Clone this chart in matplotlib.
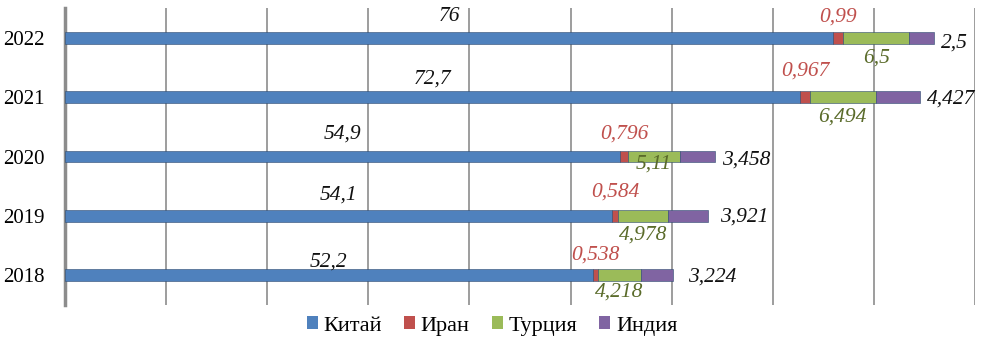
import numpy as np
import matplotlib
matplotlib.use("Agg")
import matplotlib.pyplot as plt

# ── Data ──────────────────────────────────────────────────────────
years = ["2018", "2019", "2020", "2021", "2022"]
countries = ["Китай", "Иран", "Турция", "Индия"]
china = [52.2, 54.1, 54.9, 72.7, 76]
iran = [0.538, 0.584, 0.796, 0.967, 0.99]
turkey = [4.218, 4.978, 5.11, 6.494, 6.5]
india = [3.224, 3.921, 3.458, 4.427, 2.5]

# ── Style ─────────────────────────────────────────────────────────
_COLORS = ["#4f81bd", "#c0504d", "#9bbb59", "#8064a2"]
_LABEL_COLORS = ["#111111", "#c0504d", "#5a6b2a", "#111111"]
_GRID = "#8c8c8c"
_FONT = "Liberation Serif"

# label offsets in pixels (dy from bar centre; india uses dx from bar end)
china_dy = [13, 21, 22, 18, 21]
iran_dy = [20, 24, 22, 26, 21]
turkey_dy = [-17, -19, -8, -20, -20]
india_dx = [15, 12, 7, 7, 7]
india_dy = [-2, -1, -4, -2, -5]

fig = plt.figure(figsize=(9.82, 3.51), dpi=100)
ax = fig.add_axes([65 / 982, 46 / 351, 910 / 982, 297 / 351])

y = np.arange(len(years))
series = [china, iran, turkey, india]
left = np.zeros(len(years))
for vals, color, name in zip(series, _COLORS, countries):
    ax.barh(y, vals, left=left, height=0.2, color=color,
            edgecolor="#2c4a70", linewidth=0.4, label=name, zorder=3)
    left = left + np.array(vals)

# data labels
seg_left = np.zeros(len(years))
offsets = [china_dy, iran_dy, turkey_dy]
for k, (vals, dys) in enumerate(zip(series[:3], offsets)):
    for i, v in enumerate(vals):
        ax.annotate(f"{v:g}".replace(".", ","), xy=(seg_left[i] + v / 2, y[i]),
                    xytext=(0, dys[i]), textcoords="offset pixels",
                    ha="center", va="center", fontsize=15.5, style="italic",
                    family=_FONT, color=_LABEL_COLORS[k], zorder=5)
    seg_left = seg_left + np.array(vals)

for i, v in enumerate(india):
    ax.annotate(f"{v:g}".replace(".", ","), xy=(left[i], y[i]),
                xytext=(india_dx[i], india_dy[i]), textcoords="offset pixels",
                ha="left", va="center", fontsize=15.5, style="italic",
                family=_FONT, color=_LABEL_COLORS[3], zorder=5)

ax.set_xlim(0, 90)
ax.set_ylim(-0.5, len(years) - 0.5)
ax.set_xticks(np.arange(0, 91, 10))
ax.set_xticklabels([])
ax.tick_params(axis="x", length=0)
ax.xaxis.grid(True, color=_GRID, linewidth=1.2, zorder=0)
ax.set_yticks(y)
ax.set_yticklabels(years, fontsize=15, family=_FONT)
ax.tick_params(axis="y", length=0, pad=15)
for s in ["top", "right", "bottom"]:
    ax.spines[s].set_visible(False)
ax.spines["left"].set_color(_GRID)
ax.spines["left"].set_linewidth(2.5)

leg = fig.legend(loc="center", bbox_to_anchor=(492 / 982, 1 - 326 / 351),
                 ncol=4, frameon=False, handlelength=0.5, handleheight=0.5,
                 handletextpad=0.25, columnspacing=1.0,
                 prop={"family": _FONT, "size": 16})
for h in leg.legend_handles:
    h.set_edgecolor("none")

fig.savefig("out.png", dpi=100)
